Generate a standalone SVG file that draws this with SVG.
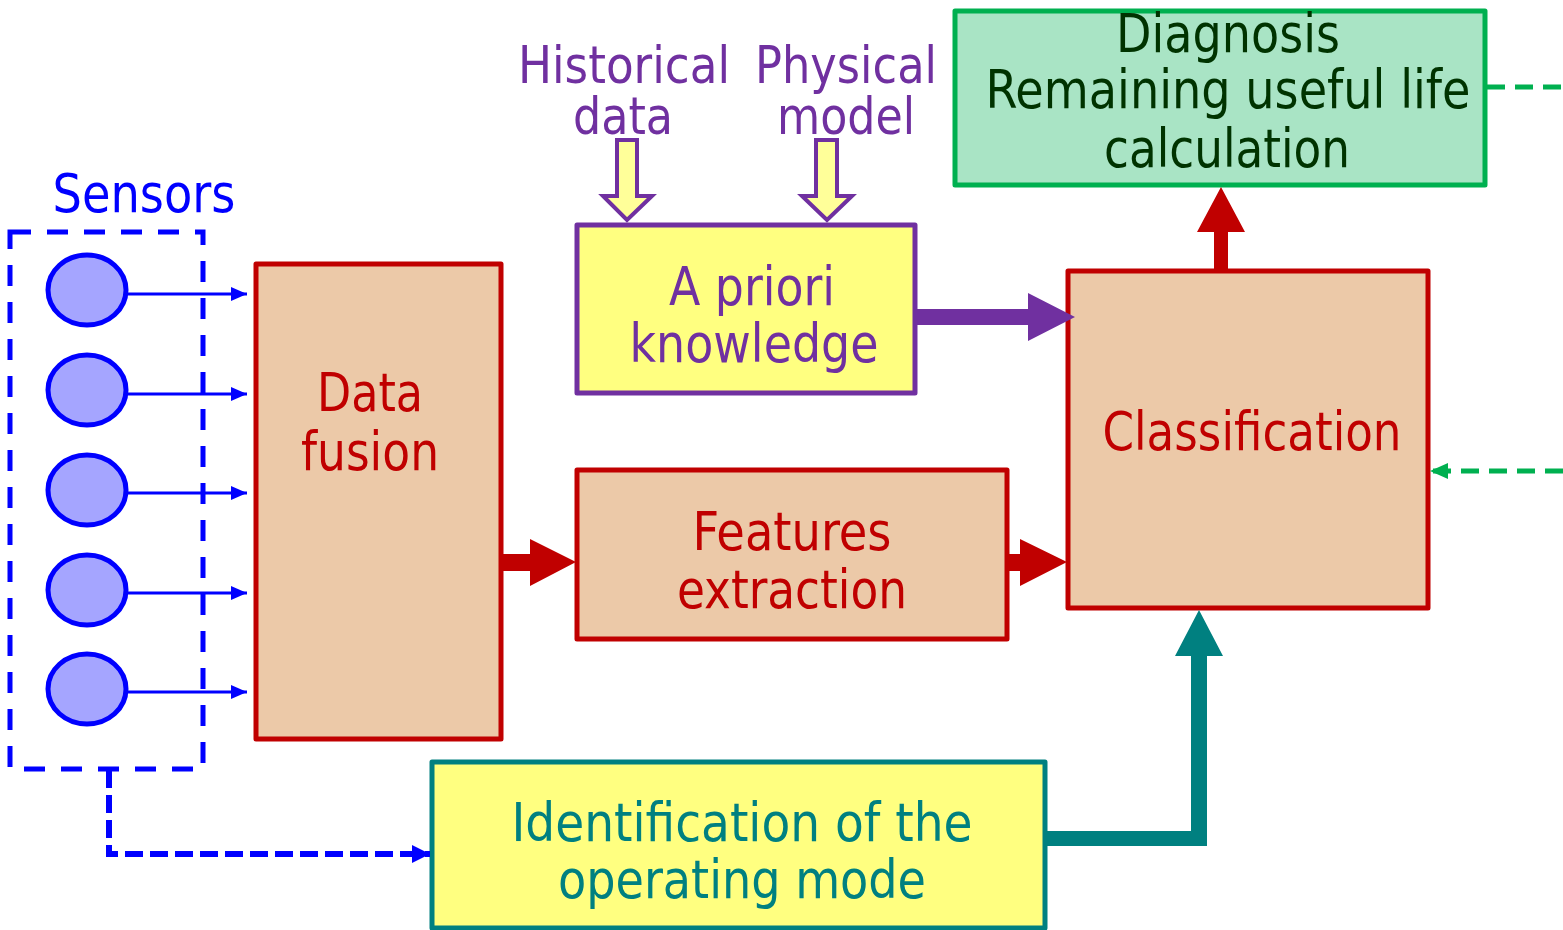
<svg xmlns="http://www.w3.org/2000/svg" width="1563" height="930" viewBox="0 0 1563 930">
  <style>
    text { font-family: "DejaVu Sans Condensed", "DejaVu Sans", Verdana, sans-serif; font-size: 53px; text-anchor: middle; }
    .box { stroke-width: 5; stroke-linejoin: round; }
    .red { fill: #ECC9A8; stroke: #C00000; }
    .redtxt { fill: #C00000; }
    .purpletxt { fill: #7030A0; }
    .tealtxt { fill: #008080; }
    .greentxt { fill: #003300; }
    .src { font-size: 51px; }
    .sensor { fill: #A5A5FF; stroke: #0000FF; stroke-width: 5; }
    .feed { stroke: #0000FF; stroke-width: 3; fill: none; marker-end: url(#blueHead); }
    .hollow { fill: #FFFF99; stroke: #7030A0; stroke-width: 4; stroke-linejoin: miter; }
  </style>
  <defs>
    <marker id="blueHead" markerUnits="userSpaceOnUse" markerWidth="16" markerHeight="16" refX="16" refY="7" orient="auto">
      <path d="M0,0 L16,7 L0,14 z" fill="#0000FF"/>
    </marker>
    <marker id="blueDashHead" markerUnits="userSpaceOnUse" markerWidth="20" markerHeight="20" refX="18" refY="9" orient="auto">
      <path d="M0,0 L18,9 L0,18 z" fill="#0000FF"/>
    </marker>
    <marker id="greenHead" markerUnits="userSpaceOnUse" markerWidth="20" markerHeight="18" refX="18" refY="8" orient="auto">
      <path d="M0,0 L18,8 L0,16 z" fill="#00B050"/>
    </marker>
  </defs>

  <rect width="1563" height="930" fill="#FFFFFF"/>

  <!-- sensor group -->
  <g id="sensors">
    <text x="144" y="212" fill="#0000FF" textLength="183" lengthAdjust="spacingAndGlyphs">Sensors</text>
    <rect x="10" y="232" width="193" height="537" fill="none" stroke="#0000FF" stroke-width="5" stroke-dasharray="21 16"/>
    <ellipse class="sensor" cx="87" cy="290" rx="39" ry="35"/>
    <ellipse class="sensor" cx="87" cy="390" rx="39" ry="35"/>
    <ellipse class="sensor" cx="87" cy="490" rx="39" ry="35"/>
    <ellipse class="sensor" cx="87" cy="590" rx="39" ry="35"/>
    <ellipse class="sensor" cx="87" cy="689" rx="39" ry="35"/>
  </g>

  <g id="data-fusion">
    <rect class="box red" x="256" y="264" width="245" height="475"/>
    <text class="redtxt"><tspan x="370" y="411" textLength="106" lengthAdjust="spacingAndGlyphs">Data</tspan><tspan x="370" y="470" textLength="138" lengthAdjust="spacingAndGlyphs">fusion</tspan></text>
  </g>

  <g id="historical-data">
    <text class="purpletxt src"><tspan x="624" y="83" textLength="212" lengthAdjust="spacingAndGlyphs">Historical</tspan><tspan x="623" y="134" textLength="100" lengthAdjust="spacingAndGlyphs">data</tspan></text>
  </g>

  <g id="physical-model">
    <text class="purpletxt src"><tspan x="846" y="83" textLength="182" lengthAdjust="spacingAndGlyphs">Physical</tspan><tspan x="846" y="134" textLength="138" lengthAdjust="spacingAndGlyphs">model</tspan></text>
  </g>

  <g id="a-priori">
    <rect class="box" x="577" y="225" width="338" height="168" fill="#FFFF80" stroke="#7030A0"/>
    <text class="purpletxt"><tspan x="752" y="305" textLength="166" lengthAdjust="spacingAndGlyphs">A priori</tspan><tspan x="754" y="362" textLength="249" lengthAdjust="spacingAndGlyphs">knowledge</tspan></text>
  </g>

  <g id="features">
    <rect class="box red" x="577" y="470" width="430" height="169"/>
    <text class="redtxt"><tspan x="792" y="550" textLength="199" lengthAdjust="spacingAndGlyphs">Features</tspan><tspan x="792" y="608" textLength="230" lengthAdjust="spacingAndGlyphs">extraction</tspan></text>
  </g>

  <g id="classification">
    <rect class="box red" x="1068" y="271" width="360" height="337"/>
    <text class="redtxt" x="1252" y="450" textLength="299" lengthAdjust="spacingAndGlyphs">Classification</text>
  </g>

  <g id="diagnosis">
    <rect class="box" x="955" y="11" width="530" height="174" fill="#A9E4C5" stroke="#00B050"/>
    <text class="greentxt"><tspan x="1228" y="52" textLength="224" lengthAdjust="spacingAndGlyphs">Diagnosis</tspan><tspan x="1228" y="108" textLength="485" lengthAdjust="spacingAndGlyphs">Remaining useful life</tspan><tspan x="1227" y="167" textLength="246" lengthAdjust="spacingAndGlyphs">calculation</tspan></text>
  </g>

  <g id="operating-mode">
    <rect class="box" x="432" y="762" width="613" height="166" fill="#FFFF80" stroke="#008080"/>
    <text class="tealtxt"><tspan x="742" y="841" textLength="461" lengthAdjust="spacingAndGlyphs">Identification of the</tspan><tspan x="742" y="898" textLength="368" lengthAdjust="spacingAndGlyphs">operating mode</tspan></text>
  </g>

  <!-- connectors -->
  <g id="connectors">
    <!-- sensor feeds into data fusion -->
    <line class="feed" x1="127" y1="294" x2="247" y2="294"/>
    <line class="feed" x1="127" y1="394" x2="247" y2="394"/>
    <line class="feed" x1="127" y1="493" x2="247" y2="493"/>
    <line class="feed" x1="127" y1="593" x2="247" y2="593"/>
    <line class="feed" x1="127" y1="692" x2="247" y2="692"/>

    <!-- sensors to operating mode identification -->
    <path d="M109,770 V854 H430" fill="none" stroke="#0000FF" stroke-width="6" stroke-dasharray="18 7" marker-end="url(#blueDashHead)"/>

    <!-- knowledge sources (hollow arrows) -->
    <path class="hollow" d="M617,140 H637 V196 H652 L627,220 L603,196 H617 z"/>
    <path class="hollow" d="M816,140 H837 V196 H852 L827,220 L802,196 H816 z"/>

    <!-- a priori knowledge to classification -->
    <path d="M916,309 H1028 V293 L1075,317 L1028,341 V325 H916 z" fill="#7030A0"/>

    <!-- data fusion to features extraction -->
    <path d="M501,554 H530 V539 L576,562 L530,586 V571 H501 z" fill="#C00000"/>

    <!-- features extraction to classification -->
    <path d="M1007,554 H1020 V539 L1067,562 L1020,586 V571 H1007 z" fill="#C00000"/>

    <!-- classification to diagnosis -->
    <path d="M1214,270 V232 H1197 L1221,187 L1245,232 H1228 V270 z" fill="#C00000"/>

    <!-- operating mode to classification -->
    <path d="M1045,831 H1191 V656 H1175 L1199,610 L1223,656 H1207 V846 H1045 z" fill="#008080"/>

    <!-- external dashed links -->
    <path d="M1487,87 H1563" fill="none" stroke="#00B050" stroke-width="5" stroke-dasharray="18 10"/>
    <path d="M1563,471 H1430" fill="none" stroke="#00B050" stroke-width="5" stroke-dasharray="18 10" marker-end="url(#greenHead)"/>
  </g>
</svg>
